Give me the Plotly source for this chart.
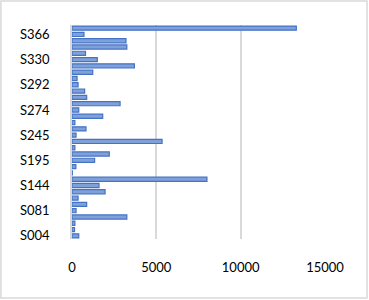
import plotly.graph_objects as go

categories = ["S004", "S021", "S047", "S063", "S081", "S092", "S108", "S125", "S144", "S152",
              "S167", "S181", "S195", "S208", "S219", "S231", "S245", "S252", "S259", "S266",
              "S274", "S279", "S283", "S288", "S292", "S301", "S312", "S320", "S330", "S341",
              "S349", "S357", "S366", "S372"]
values = [400, 150, 170, 3250, 240, 870, 360, 1960, 1600, 8000,
          20, 230, 1340, 2210, 170, 5340, 240, 830, 170, 1820,
          400, 2850, 870, 750, 360, 300, 1230, 3700, 1500, 800,
          3250, 3200, 710, 13300]
shown_labels = ["S004", "S081", "S144", "S195", "S245", "S274", "S292", "S330", "S366"]
x_ticks = [0, 5000, 10000, 15000]
x_tick_text = ["0", "5000", "10000", "15000"]

fig = go.Figure(go.Bar(
    x=values, y=categories, orientation="h",
    marker=dict(color="#7FA1DA", line=dict(color="#4472C4", width=1.2)),
))

fig.update_layout(
    width=369, height=300,
    margin=dict(l=72, r=44, t=25, b=61),
    plot_bgcolor="white", paper_bgcolor="white",
    bargap=0.34,
    showlegend=False,
    font=dict(family="Lato, Open Sans, sans-serif", size=13, color="#000000"),
    xaxis=dict(range=[0, 15000], tickvals=x_ticks, ticktext=x_tick_text, showgrid=True,
               gridcolor="#D9D9D9", gridwidth=1.5, zeroline=False, showline=False,
               ticklabelstandoff=19, fixedrange=True),
    yaxis=dict(type="category", categoryorder="array", categoryarray=categories,
               tickvals=shown_labels, showgrid=False, showline=True, linecolor="#D9D9D9",
               linewidth=1.5, ticklabelstandoff=18, range=[-0.5, 33.5]),
    shapes=[dict(type="rect", xref="paper", yref="paper",
                 x0=-0.281, x1=1.166, y0=-0.2757, y1=1.112,
                 line=dict(color="#D9D9D9", width=1.5), fillcolor="rgba(0,0,0,0)")],
)

fig.write_html("out.html", config={"displayModeBar": False},
               post_script="document.body.style.margin='0px';")
